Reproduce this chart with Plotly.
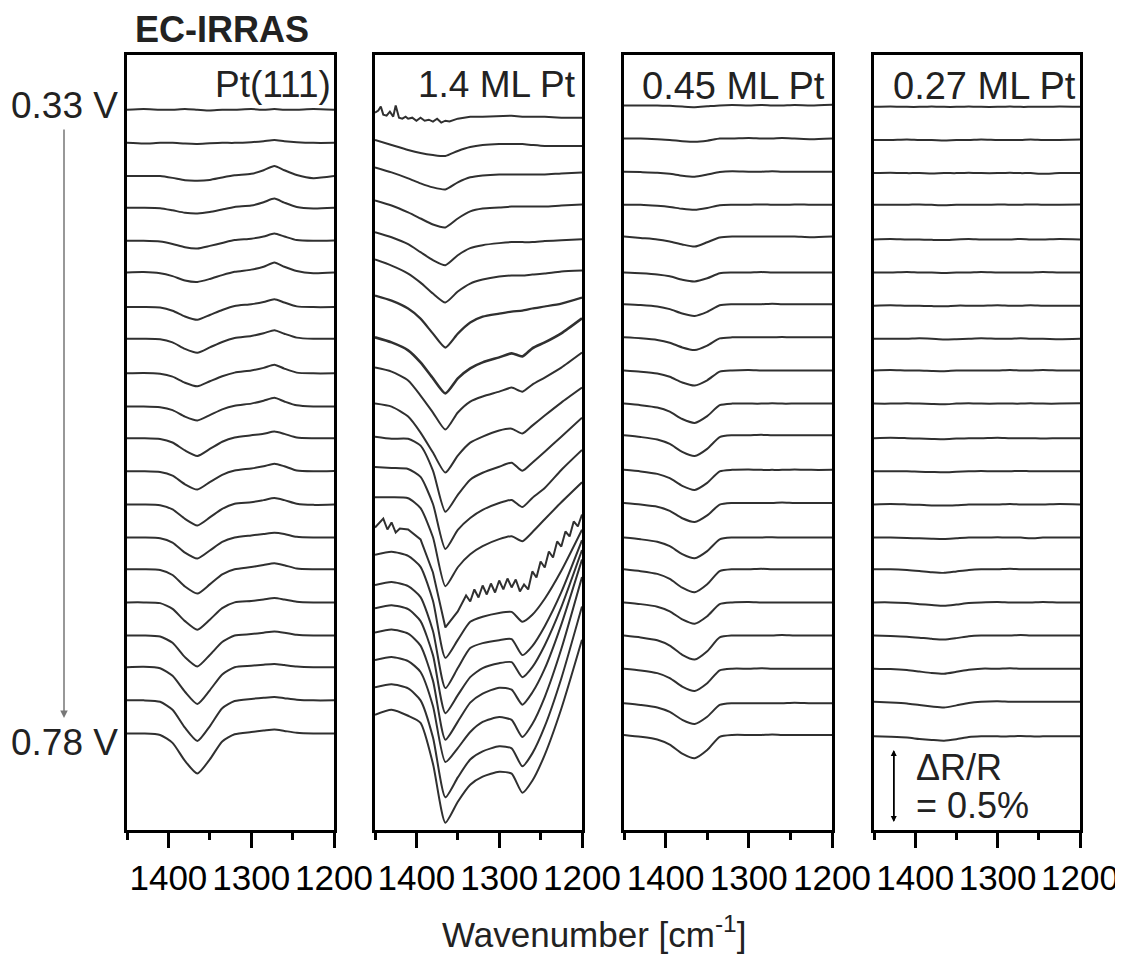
import plotly.graph_objects as go

# ---------------- data ----------------
# wavenumber grid (cm^-1) at which the spectra were read off the figure
WN = [1450, 1430, 1410, 1395, 1380, 1365, 1350, 1335, 1320, 1300, 1285, 1272, 1260, 1245, 1225, 1200]

# y unit: 0.01 % of dR/R  (scale bar 0.5 % = 50 units); each spectrum = offset + deviation
# ---- Pt(111) ----
OFF_PT111 = [-38, -61, -84, -106, -129, -151, -175, -197, -221, -244,
             -266, -289, -312, -335, -357, -380, -403, -425, -448, -471]
DEV_PT111 = [
    [0, 0.5, 0, 0, 0.5, 0, -0.5, 0, 0, 0.5, 0, 0.5, 0, 0, 0.5, 0],
    [0, -0.5, 0, 0, -0.5, -0.7, -0.3, 0, 0, 0.5, 1.2, 2, 1.2, 0.5, 0, 0],
    [0, 0, 0, -1.3, -3, -3.3, -2.7, -1, 0.5, 1.5, 4, 7, 4, 0.7, -1.5, 0],
    [0, 0, -0.3, -1.8, -3.5, -4, -3, -1.2, 0.5, 1.5, 3.8, 6.3, 3.5, 0.5, -0.5, 0],
    [0, 0, -0.5, -2.2, -4.5, -5.3, -3.5, -1.5, 0.5, 1.5, 3, 5, 3, 0.5, 0, 0.3],
    [0, 0.3, -0.5, -2.5, -5.5, -6.5, -4.5, -1.8, 0.5, 2, 4, 7, 4, 1, -0.5, 0],
    [0, 0, -0.3, -2.5, -6.5, -8.8, -5.5, -2, 0.8, 2, 3.5, 5.5, 3.2, 0.5, 0, 0],
    [0, 0, -0.3, -2.5, -7, -9.7, -6, -2.2, 0.5, 2, 3.8, 6, 3.5, 0.8, 0, 0],
    [0, 0.3, -0.3, -2.3, -6.5, -9, -5.5, -2, 0.5, 2, 3.8, 6, 3.3, 0.5, 0, 0],
    [0, 0, -0.5, -2.5, -7, -9.7, -6, -2, 0.5, 2, 4, 6, 3.5, 0.8, 0, 0],
    [0, 0, -0.5, -3, -8.5, -12.3, -7.5, -2.5, 0.5, 2, 3, 4.6, 3, 0.5, 0, 0],
    [0, 0, -0.5, -3, -9, -12.7, -7.5, -2.5, 0.5, 2, 3.5, 5.3, 3.5, 0.5, 0, 0.3],
    [0, 0, -0.5, -3.5, -10, -14.6, -9, -3, 0.5, 1.5, 3, 4.4, 3, 0.5, -0.3, 0],
    [0, 0, -0.5, -3.5, -10.5, -14.6, -9, -3, 0, 1.5, 2.5, 3.3, 2.5, 0.5, 0, 0],
    [0, 0, -0.5, -4, -12, -16.9, -10.5, -3.5, 0, 1.5, 3, 4.2, 2.8, 0.5, 0, 0],
    [0, 0, -0.5, -4.5, -13, -19, -12, -4, 0, 1, 2, 3, 2, 0.5, 0, 0],
    [0, 0, -0.7, -5, -15, -21.5, -13.5, -4.5, 0, 1, 2, 2.8, 2, 0.5, 0, 0],
    [0, 0.3, -0.7, -6, -17, -25.5, -16, -5, 0, 1, 1.8, 2.3, 1.5, 0.5, 0, 0],
    [0, 0, -1, -6.5, -19, -28.2, -18, -5.5, -0.5, 1, 1.8, 2.3, 1.5, 0.5, 0, 0],
    [0, 0, -1, -6.5, -19, -27.8, -18, -5.5, -0.5, 1, 2, 2.8, 1.8, 0.5, 0, 0],
]

# ---- 1.4 ML Pt ----
OFF_14ML = [-40, -59, -78, -101, -123, -142, -167, -196, -217, -242, -265,
            -286, -307, -328, -347, -368, -384, -401, -420, -439, -458]
DEV_14ML = [
    None,  # first spectrum (spiky at low wavenumber side), given on its own grid below
    [0, -3.5, -6.9, -9, -10.4, -11.1, -7.6, -4.9, -3.5, -2.8, -2.8, -2.8, -3.5, -4.2, -4.2, -4.2],
    [0, -3.5, -7.6, -11.1, -13.9, -15.3, -10.4, -6.9, -5.6, -4.9, -4.9, -4.9, -4.9, -4.9, -4.2, -3.5],
    [0, -3.5, -8.3, -12.5, -16.7, -18.7, -12.5, -7.6, -5.6, -4.9, -4.2, -4.2, -4.2, -4.2, -3.5, -2.8],
    [0, -3.5, -8.3, -13.9, -19.4, -22.9, -16, -11.1, -9, -7.6, -6.9, -6.9, -6.9, -6.2, -5.6, -4.9],
    [0, -4.2, -9.7, -16, -23.6, -29.8, -22.2, -16.7, -13.9, -11.8, -11.1, -11.1, -10.4, -9.7, -8.3, -7.6],
    [0, -3.5, -9, -16, -26.4, -36.1, -26.4, -18.7, -14.6, -12.5, -11.1, -10.4, -9, -7.6, -5.6, -1.4],
    [0, -3.5, -9, -17.4, -28.5, -38.9, -28.5, -21.5, -17.4, -13.9, -11.1, -13.2, -7.6, -3.5, 2.8, 13.2],
    [0, -2.8, -9, -19.4, -31.2, -43, -31.2, -23.6, -20.1, -16.7, -13.9, -16.7, -11.8, -6.9, 0, 10.4],
    [0, -2.1, -9, -20.1, -34, -47.9, -36.1, -27.1, -22.9, -18.7, -17.4, -20.8, -15.3, -8.3, 0.7, 11.1],
    [0, -1.4, -1.4, -6.2, -23.6, -52.1, -40.3, -29.8, -25, -20.8, -18, -23.6, -18, -10.4, 0, 13.2],
    [0, -0.7, -1.4, -6.9, -25.7, -56.9, -43.7, -35.4, -29.8, -25, -22.9, -27.8, -21.5, -14.6, -2.1, 11.8],
    [0, 0, -0.7, -7.6, -27.8, -61.8, -48.6, -39.6, -34, -29.1, -27.1, -30.5, -24.3, -15.3, -3.5, 10.4],
    None,  # noisy spectrum, given on its own grid below
    [0, 2.1, -0.7, -8.3, -31.9, -71.5, -59, -46.5, -43, -40.3, -39.6, -46.5, -41.6, -30.5, -11.1, 17.4],
    [0, 2.1, -0.7, -8.3, -31.9, -71.5, -57.6, -43.7, -40.3, -38.2, -37.5, -48.6, -42.3, -28.5, -4.9, 31.2],
    [0, 2.1, -0.7, -9, -32.6, -72.9, -60.4, -47.9, -41.6, -38.2, -37.5, -47.9, -40.9, -25.7, 0.7, 40.3],
    [0, 2.1, -0.7, -9, -33.3, -74.3, -61.8, -48.6, -42.3, -38.2, -39.6, -50, -41.6, -25, 5.6, 50.7],
    [0, 2.1, -0.7, -8.3, -31.9, -70.8, -61.1, -50, -43, -39.6, -41.6, -53.4, -44.4, -25.7, 7.6, 57.6],
    [0, 2.1, -0.7, -9, -34.7, -76.3, -62.5, -50, -44.4, -40.9, -42.3, -54.8, -45.8, -27.1, 6.2, 56.2],
    [0, 3.5, -0.7, -5.6, -34, -74.9, -60.4, -48.6, -43, -39.6, -40.9, -54.1, -45.8, -27.8, 4.2, 52.1],
]
# 1st spectrum of the 1.4 ML panel, denser reading (spikes near 1440-1400)
WN_14ML_FIRST = [1450, 1446, 1443, 1440, 1436, 1432, 1428, 1425, 1421, 1417, 1413, 1410,
                 1405, 1400, 1395, 1390, 1385, 1380, 1375, 1370, 1365, 1360, 1350,
                 1335, 1320, 1300, 1285, 1272, 1260, 1245, 1225, 1200]
DEV_14ML_FIRST = [0, 1.4, 4.2, -1.4, -2.1, 0.7, -2.8, 4.9, -3.5, -4.2, -2.8, -4.2,
                  -3.5, -5.6, -3.5, -5.6, -4.9, -6.2, -4.2, -6.9, -5.6, -6.2, -4.2,
                  -2.8, -2.8, -2.1, -2.1, -2.8, -2.8, -2.8, -3.5, -3.5]
# 14th spectrum of the 1.4 ML panel (strongly oscillating), denser reading
WN_14ML_NOISY = [1450, 1440, 1435, 1430, 1425, 1420, 1410, 1395, 1380, 1365, 1350, 1340,
                 1335, 1330, 1325, 1320, 1315, 1310, 1305, 1300, 1295, 1290, 1285, 1280,
                 1275, 1270, 1265, 1260, 1255, 1250, 1245, 1240, 1235, 1230, 1225, 1220,
                 1215, 1210, 1205, 1200]
DEV_14ML_NOISY = [0, 6.2, -1.4, 3.5, -3.5, -0.7, -1.4, -8.3, -31.2, -69.4, -58.3, -47.2,
                  -51.4, -43, -48.6, -40.3, -46.5, -38.9, -45.1, -36.8, -43, -35.4, -41.6, -36.1,
                  -44.4, -39.6, -43, -30.5, -34.7, -23.6, -27.8, -16.7, -20.8, -9.7, -13.2, -2.8,
                  -6.2, 4.2, 0.7, 9]
SEPARATE_14ML = {0: (WN_14ML_FIRST, DEV_14ML_FIRST), 13: (WN_14ML_NOISY, DEV_14ML_NOISY)}
THICK_INDEX_14ML = [6, 7]   # visibly noisier (thicker-looking) spectra

# ---- 0.45 ML Pt ----
OFF_045ML = [-35, -58, -81, -104, -126, -151, -173, -196, -219, -242,
             -264, -288, -311, -335, -357, -380, -403, -426, -450, -472]
DEV_045ML = [
    [0, 0, 0, -0.3, -0.8, -1.2, -0.6, 0, 0.3, 0, 0.3, 0, 0, 0.3, 0, 0.5],
    [0, 0, -0.5, -1, -1.8, -2.3, -1.5, 0, 0, 0.3, 0, 0, 0.3, 0, -0.5, 0],
    [0, -0.3, -0.7, -1.5, -2.8, -3.5, -2, -0.3, 0.3, 0, 0, 0.3, 0, 0, 0, 0],
    [0, 0, -0.7, -1.5, -2.8, -3.5, -2.2, -0.3, 0, 0, 0.3, 0, 0, 0.3, 0, 0],
    [0, -1, -2, -3.5, -5.5, -7, -4, -0.7, 0, 0, 0, 0, 0, 0, -0.5, 0],
    [0, -0.5, -1.3, -2.6, -5, -6.2, -4, -0.5, 0, 0, 0.3, 0, 0, 0, 0, 0],
    [0, -0.6, -1.6, -3.4, -6.5, -8.1, -5.3, -0.7, 0, 0, 0, 0.3, 0, 0, 0, 0],
    [0, -0.7, -1.8, -3.7, -7, -8.8, -5.7, -0.7, 0, 0, 0, 0, 0.3, 0, 0, 0],
    [0, -0.8, -2.1, -4.4, -8.3, -10.4, -6.8, -0.8, 0, 0.3, 0, 0, 0, 0, 0, 0],
    [0, -1.1, -2.7, -5.6, -10.7, -13.4, -8.7, -1.1, 0, 0, 0, 0.3, 0, 0, 0, 0],
    [0, -1.2, -2.9, -6, -11.5, -14.4, -9.4, -1.2, 0, 0, 0.3, 0, 0, 0, 0, 0],
    [0, -1.1, -2.8, -5.8, -11.1, -13.9, -9, -1.1, 0, 0.3, 0, 0, 0, 0.3, 0, 0],
    [0, -1.1, -2.6, -5.5, -10.6, -13.2, -8.6, -1.1, 0, 0, 0, 0, 0.3, 0, 0, 0],
    [0, -1.2, -2.9, -6, -11.5, -14.4, -9.4, -1.2, 0, 0, 0, 0.3, 0, 0, 0, 0],
    [0, -1.3, -3.2, -6.7, -12.8, -16, -10.4, -1.3, 0, 0, 0.3, 0, 0, 0, 0, 0],
    [0, -1.2, -3, -6.2, -11.8, -14.8, -9.6, -1.2, 0, 0.3, 0, 0, 0, 0, 0, 0],
    [0, -1.3, -3.3, -7, -13.4, -16.7, -10.9, -1.3, 0, 0, 0, 0, 0.3, 0, 0, 0],
    [0, -1.2, -3.1, -6.5, -12.4, -15.5, -10.1, -1.2, 0, 0, 0.3, 0, 0, 0, 0, 0],
    [0, -1.2, -2.9, -6, -11.5, -14.4, -9.4, -1.2, 0, 0, 0, 0, 0, 0.3, 0, 0],
    [0, -1.3, -3.2, -6.8, -13, -16.2, -10.5, -1.3, 0, 0, 0, 0.3, 0, 0, 0, 0],
]

# ---- 0.27 ML Pt ----
OFF_027ML = [-36, -59, -82, -104, -128, -151, -174, -197, -219, -242,
             -266, -289, -312, -335, -357, -380, -403, -426, -449, -473]
DEV_027ML = [
    [0, 0.3, 0, 0, 0.3, 0, 0, 0.3, 0, 0, 0.3, 0, 0, 0, 0.3, 0],
    [0, 0, 0.3, 0, 0, -0.3, 0, 0, 0.3, 0, 0, 0, 0.3, 0, 0, 0.3],
    [0, 0.3, 0, 0, -0.3, 0, 0, 0.3, 0, 0, 0.3, 0, 0, -0.5, 0, 0],
    [0, 0, 0, 0.3, 0, -0.3, 0, 0, 0, 0.3, 0, 0, 0.3, 0, 0, 0.3],
    [0, 0.3, 0, 0, -0.3, -0.5, 0, 0.3, 0, 0, 0, 0.3, 0, 0, 0.3, 0],
    [0, 0, 0.3, 0, 0, -0.3, 0, 0, 0.3, 0, 0, 0, 0, 0.3, 0, 0],
    [0, 0.3, 0, 0, -0.3, -0.5, 0, 0, 0, 0.3, 0, 0, 0.3, 0, 0, 0],
    [0, 0, 0, 0.3, 0, -0.5, -0.3, 0, 0.3, 0, 0, 0.3, 0, 0, -0.3, 0],
    [0, 0.3, 0, 0, -0.3, -0.5, 0, 0, 0, 0, 0.3, 0, 0, 0.3, 0, 0],
    [0, 0, 0.3, 0, -0.3, -0.5, 0, 0.3, 0, 0, 0, 0, 0.3, 0, 0, 0.3],
    [0, 0.3, 0, -0.3, -0.5, -0.7, -0.3, 0, 0, 0.3, 0, 0, 0, -0.3, 0, 0],
    [0, 0, 0, -0.3, -0.5, -0.7, -0.3, 0, 0.3, 0, 0, 0.3, 0, 0, 0, 0],
    [0, 0.3, 0, -0.3, -0.7, -0.8, -0.5, 0, 0, 0, 0.3, 0, 0, 0, 0.3, 0],
    [0, 0, -0.3, -0.5, -0.8, -1, -0.5, 0, 0, 0.3, 0, 0, -0.5, 0, 0, 0],
    [0, 0, -0.5, -1.2, -2, -2.5, -1.5, -0.5, 0, 0, 0.3, 0, 0, 0, 0, 0],
    [0, 0, -0.5, -1.2, -1.8, -2.3, -1.5, -0.5, 0, 0.3, 0, 0, 0, 0.3, 0, 0],
    [0, -0.3, -0.8, -1.5, -2.3, -2.8, -1.8, -0.5, 0, 0, 0, 0.3, 0, 0, 0, 0],
    [0, -0.3, -1, -2, -3, -3.5, -2.2, -0.7, 0, 0, 0.3, 0, 0, 0, 0, 0],
    [0, -0.5, -1.2, -2.3, -3.3, -4, -2.5, -0.8, 0, 0.3, 0, 0, 0, 0, 0, 0],
    [0, -0.3, -0.8, -1.8, -2.5, -3, -2, -0.5, 0, 0, 0, 0.3, 0, 0, 0, 0],
]

PANEL_LABELS = ["Pt(111)", "1.4 ML Pt", "0.45 ML Pt", "0.27 ML Pt"]
PANELS = [(OFF_PT111, DEV_PT111), (OFF_14ML, DEV_14ML),
          (OFF_045ML, DEV_045ML), (OFF_027ML, DEV_027ML)]
X_TICKS = [1400, 1300, 1200]
X_MINOR = [1450, 1350, 1250]
X_RANGE = [1450, 1200]
Y_RANGE = [-538, 0]
SCALE_BAR = 50          # 0.5 % dR/R in y units
POT_START, POT_END = "0.33 V", "0.78 V"

# ---------------- layout geometry (page pixels) ----------------
PAGE_W, PAGE_H = 1123, 955
PM = 8                               # default body margin of the html page
W, H = PAGE_W - PM, PAGE_H - PM      # figure size
PANEL_PX = [(127, 334), (375, 582), (624, 832), (874, 1080)]
Y_TOP, Y_BOT = 55, 830
FONT = "Liberation Sans, Arial, Helvetica, sans-serif"
LINE_COL = "#303030"
TXT_COL = "#222222"

def fx(px):
    return (px - PM) / W

def fy(py):
    return 1 - (py - PM) / H

fig = go.Figure()
layout = {}
for p, ((x0, x1), (offs, devs)) in enumerate(zip(PANEL_PX, PANELS)):
    k = "" if p == 0 else str(p + 1)
    for i, (off, dev) in enumerate(zip(offs, devs)):
        xs, width, shape = WN, 2, "spline"
        if dev is None:
            xs, dev = SEPARATE_14ML[i]
            shape = "linear"
        if p == 1 and i in THICK_INDEX_14ML:
            width = 2.6 if i == 7 else 2.2
        line = dict(color=LINE_COL, width=width, shape=shape)
        if shape == "spline":
            line["smoothing"] = 0.6
        fig.add_trace(go.Scatter(
            x=xs, y=[off + d for d in dev], mode="lines", line=line,
            xaxis="x" + k, yaxis="y" + k, showlegend=False, hoverinfo="skip"))
    layout["xaxis" + k] = dict(
        domain=[fx(x0), fx(x1)], range=X_RANGE, anchor="y" + k,
        showline=True, mirror=True, linecolor="black", linewidth=3,
        showgrid=False, zeroline=False, automargin=False, tickangle=0,
        ticklabeloverflow="allow",
        ticks="outside", tickvals=X_TICKS, ticktext=[str(t) for t in X_TICKS],
        ticklen=15, tickwidth=3, tickcolor="black",
        minor=dict(tickvals=X_MINOR, ticks="outside", ticklen=7, tickwidth=3,
                   tickcolor="black", showgrid=False),
        tickfont=dict(family=FONT, size=35, color="black"))
    layout["yaxis" + k] = dict(
        domain=[fy(Y_BOT), fy(Y_TOP)], range=Y_RANGE, anchor="x" + k,
        showline=True, mirror=True, linecolor="black", linewidth=3,
        showgrid=False, zeroline=False, showticklabels=False, ticks="",
        automargin=False)

fig.update_layout(width=W, height=H, margin=dict(l=0, r=0, t=0, b=0, autoexpand=False),
                  paper_bgcolor="white", plot_bgcolor="white", **layout)

ann = []
def txt(text, x, y, size=35, xanchor="center", bold=False, color=TXT_COL):
    ann.append(dict(text=("<b>%s</b>" % text) if bold else text,
                    x=fx(x), y=fy(y), xref="paper", yref="paper",
                    xanchor=xanchor, yanchor="middle", showarrow=False,
                    font=dict(family=FONT, size=size, color=color)))

txt("EC-IRRAS", 222, 30, size=36, bold=True)
label_right = [333, 578, 827, 1078]
label_y = [84, 84, 86, 86]
label_size = [37, 37, 38, 38]
for lab, xr, yy, sz in zip(PANEL_LABELS, label_right, label_y, label_size):
    txt(lab, xr, yy, size=sz, xanchor="right")
txt(POT_START, 64, 105, size=37)
txt(POT_END, 64, 742, size=37)
txt("Wavenumber [cm<sup>-1</sup>]", 594, 932, size=35)
txt("ΔR/R", 914, 767, size=36, xanchor="left")
txt("= 0.5%", 914, 805, size=36, xanchor="left")

# potential arrow (gray), tail given as pixel offset
ann.append(dict(x=fx(64), y=fy(718), xref="paper", yref="paper",
                ax=0, ay=-(718 - 128), showarrow=True, arrowhead=2,
                arrowsize=1, arrowwidth=1.5, arrowcolor="#777777", text=""))
# scale bar (double-headed), in data coords of panel 4
ybar_top = -(750 - Y_TOP) * (Y_RANGE[1] - Y_RANGE[0]) / (Y_BOT - Y_TOP)
for ya, yb in [(ybar_top - SCALE_BAR, ybar_top), (ybar_top, ybar_top - SCALE_BAR)]:
    ann.append(dict(x=1426, y=ya, ax=1426, ay=yb, xref="x4", yref="y4",
                    axref="x4", ayref="y4", showarrow=True, arrowhead=2,
                    arrowsize=0.8, arrowwidth=1.5, arrowcolor="black", text=""))
fig.update_layout(annotations=ann)

fig.write_html("out.html")
